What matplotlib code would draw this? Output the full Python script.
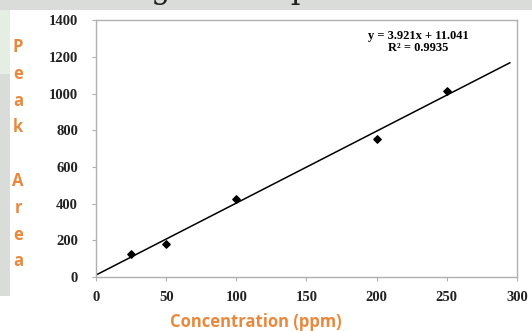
import matplotlib.pyplot as plt
from matplotlib.patches import Rectangle
import numpy as np

# 标准曲线数据
conc = [25, 50, 100, 200, 250]
peak_area = [125, 178, 425, 752, 1015]
slope, intercept = 3.921, 11.041
r2 = 0.9935
x_ticks = [0, 50, 100, 150, 200, 250, 300]
y_ticks = [0, 200, 400, 600, 800, 1000, 1200, 1400]

ORANGE = '#E8893E'
GRAY = '#B0B0B0'

fig = plt.figure(figsize=(5.32, 3.31), dpi=100)
fig.patch.set_facecolor('#D9DCD9')

# 背景（截图里的页面）
fig.patches.append(Rectangle((0, 0.775), 0.02, 0.195, transform=fig.transFigure,
                             facecolor='#E4EEE3', edgecolor='none', zorder=-2))
fig.patches.append(Rectangle((0.019, 0), 0.981, 0.97, transform=fig.transFigure,
                             facecolor='white', edgecolor='none', zorder=-2))
fig.patches.append(Rectangle((0, 0), 0.02, 0.105, transform=fig.transFigure,
                             facecolor='white', edgecolor='none', zorder=-2))
fig.text(0.015, 0.985, 'of    rating a   sample of the', fontsize=22, family='DejaVu Serif',
         color='#222222', va='bottom', ha='left', zorder=-1)

ax = fig.add_axes([0.1805, 0.163, 0.791, 0.776])
ax.scatter(conc, peak_area, marker='D', s=14, color='black', zorder=3)
xl = np.array([0, 295])
ax.plot(xl, slope * xl + intercept, color='black', lw=1.1)

ax.set_xlim(0, 300)
ax.set_ylim(0, 1400)
ax.set_xticks(x_ticks)
ax.set_yticks(y_ticks)
for s in ax.spines.values():
    s.set_color(GRAY)
    s.set_linewidth(1.0)
ax.tick_params(direction='out', length=3, color=GRAY, labelsize=10.5)
ax.tick_params(axis='y', pad=10)
ax.tick_params(axis='x', pad=7)
for lab in ax.get_xticklabels() + ax.get_yticklabels():
    lab.set_fontfamily('Liberation Serif')
    lab.set_fontweight('bold')
    lab.set_color('#222222')

ax.text(0.765, 0.915, f'y = {slope}x + {intercept}\nR² = {r2}', transform=ax.transAxes,
        ha='center', va='center', fontsize=9, family='Liberation Serif',
        fontweight='bold', linespacing=1.05)

# 竖排的 y 轴标题
letters = ['P', 'e', 'a', 'k', '', 'A', 'r', 'e', 'a']
for i, ch in enumerate(letters):
    fig.text(0.034, 1 - (47 + i * 26.8) / 331, ch, fontsize=12, family='Open Sans',
             fontweight='bold', color=ORANGE, ha='center', va='center')

fig.text(0.48, 1 - 322 / 331, 'Concentration (ppm)', fontsize=12, family='Open Sans',
         fontweight='bold', color=ORANGE, ha='center', va='center')

plt.savefig('out.png', dpi=100, facecolor=fig.get_facecolor())
plt.close()
